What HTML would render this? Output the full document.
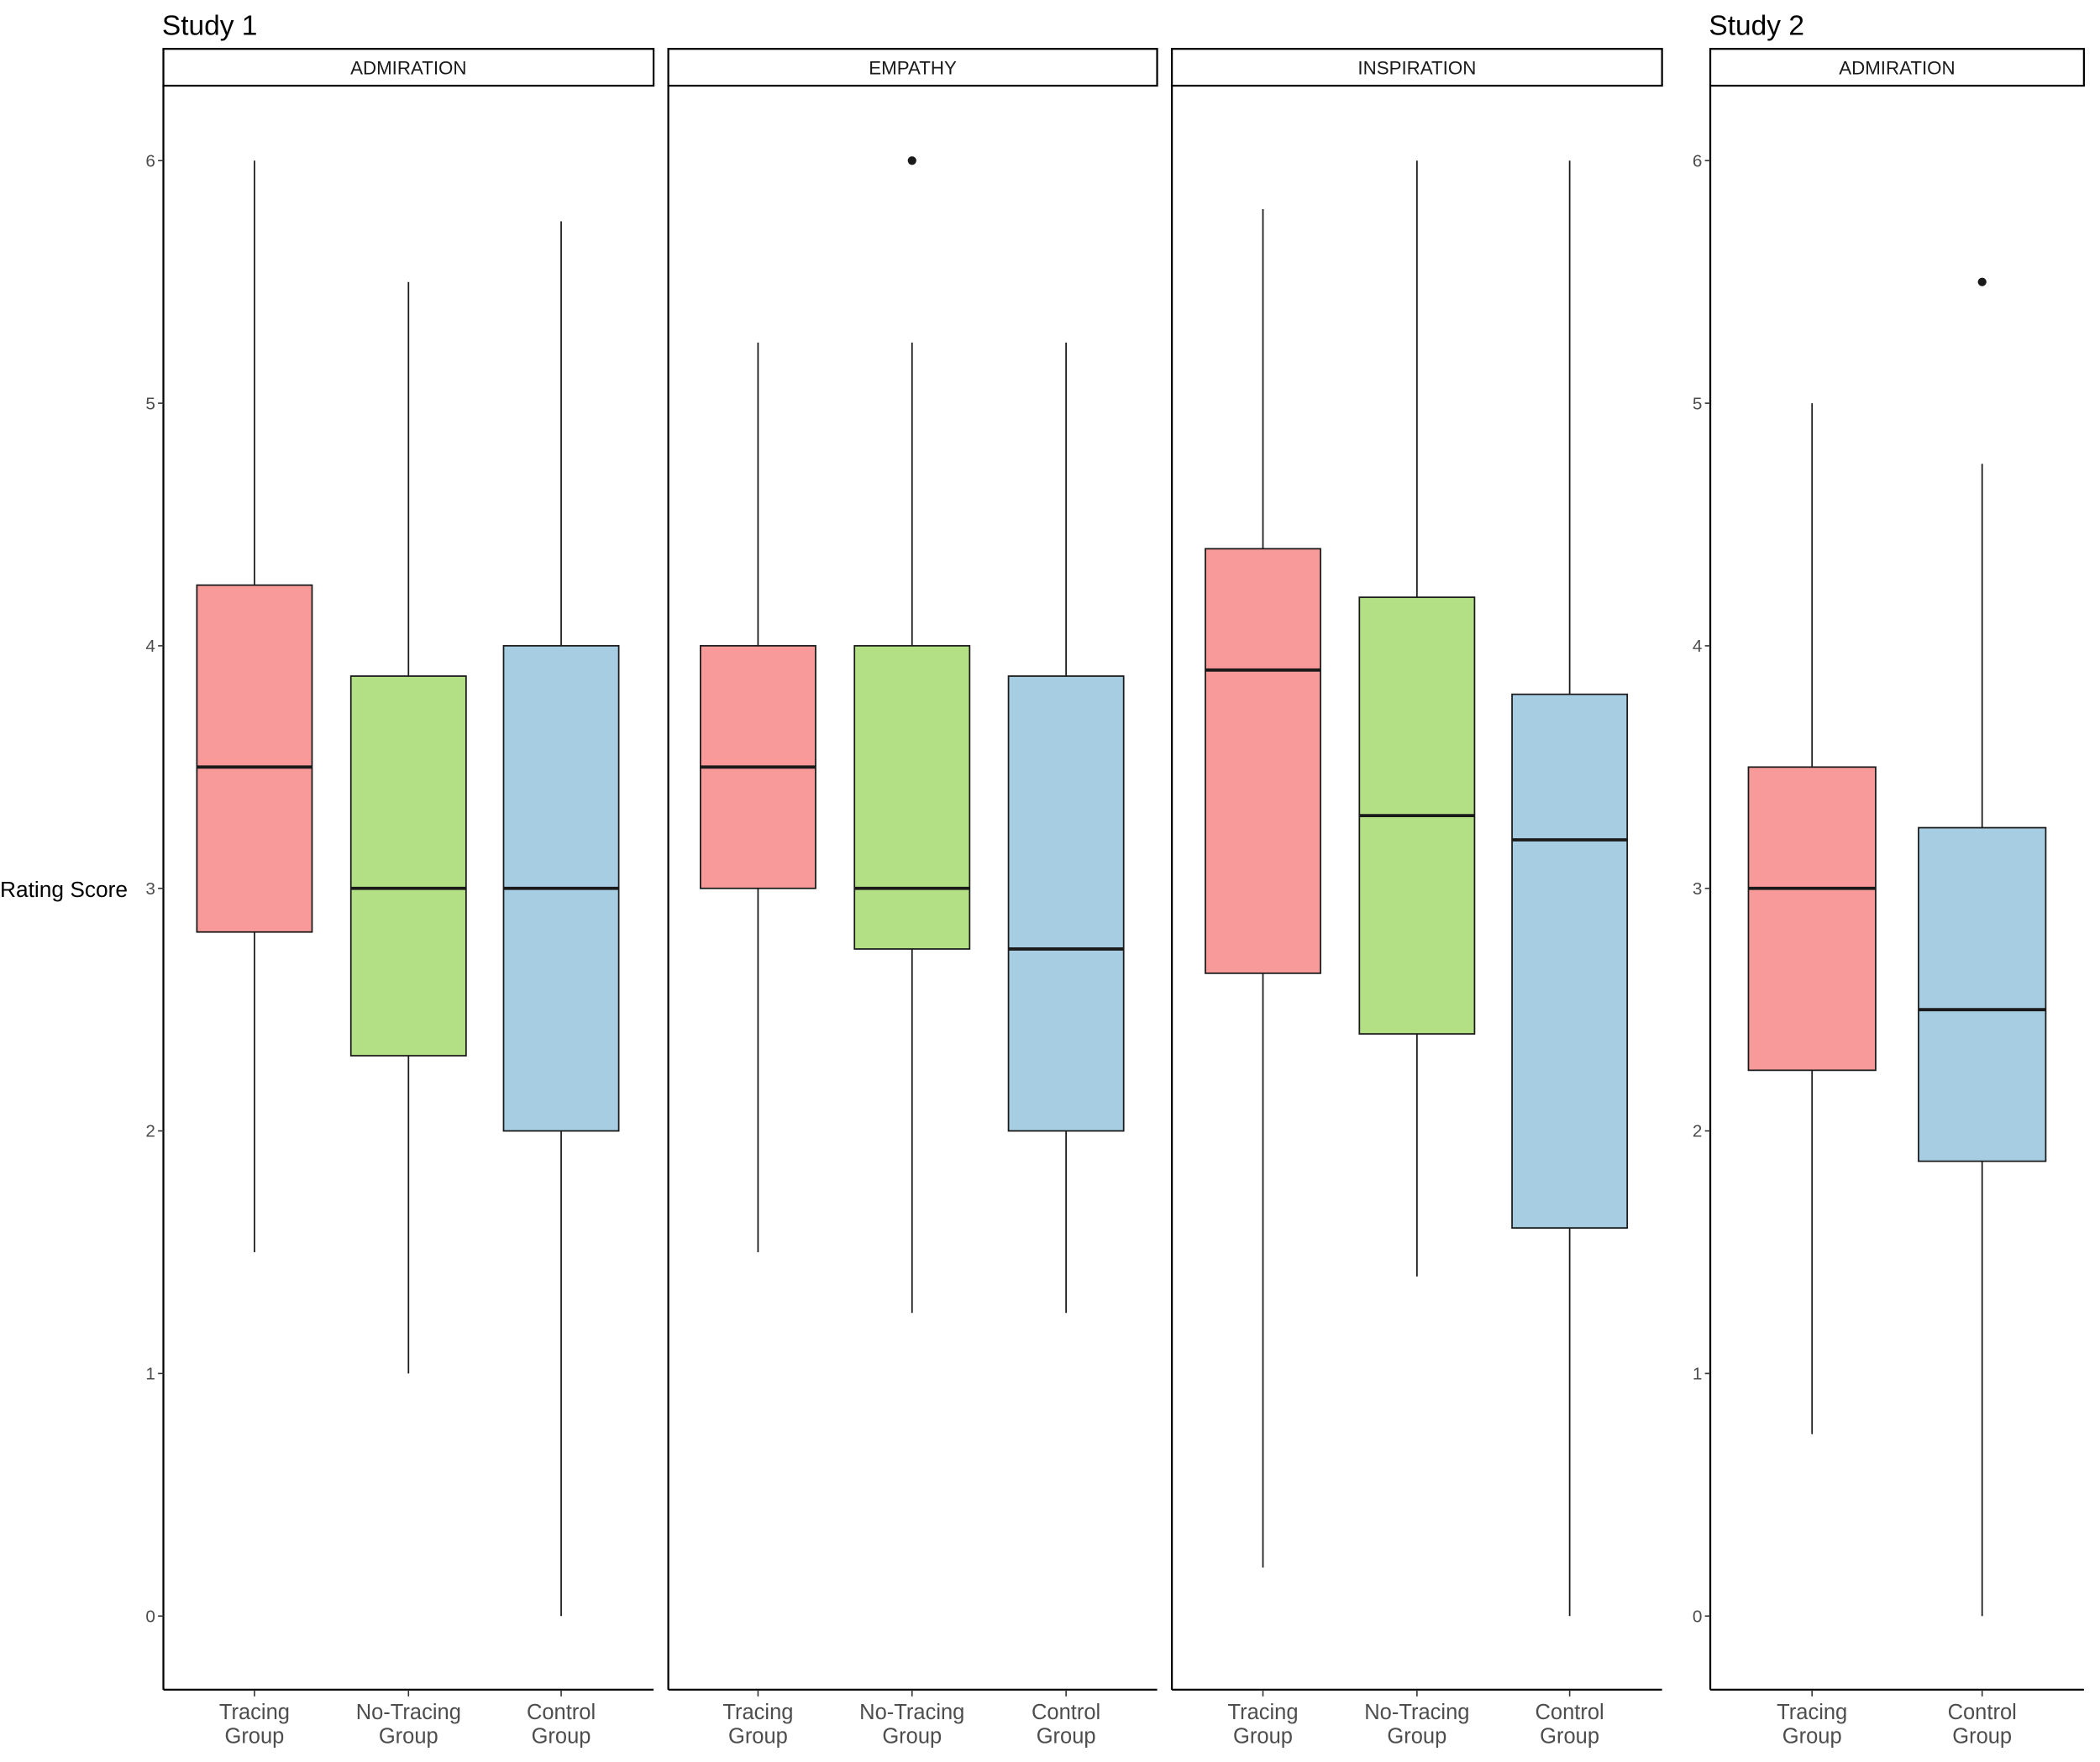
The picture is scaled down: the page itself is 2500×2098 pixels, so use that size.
<!DOCTYPE html>
<html><head><meta charset="utf-8"><style>html,body{margin:0;padding:0;background:#fff}svg{display:block}</style></head>
<body>
<svg id="s" width="2500" height="2098" viewBox="0 0 1568 1316" preserveAspectRatio="none" xmlns="http://www.w3.org/2000/svg" font-family="Liberation Sans, Arial, sans-serif">
<rect width="1568" height="1316" fill="#fff"/>
<text x="121" y="26" font-size="21" fill="#000">Study 1</text>
<text x="1276" y="26" font-size="21" fill="#000">Study 2</text>
<text x="0" y="670" font-size="16.5" fill="#000">Rating Score</text>
<g id="g"></g>
</svg>
<script>
const g=document.getElementById('g');
const Y=v=>1207-181.17*v;
let h='';
const pink='#F8999A',green='#B3DF85',blue='#A6CDE2';
const panels=[
 {x0:122,x1:488,name:'ADMIRATION',ticks:true,b:[
  [190,pink,1.5,2.82,3.5,4.25,6,null,'Tracing','Group'],
  [305,green,1,2.31,3,3.875,5.5,null,'No-Tracing','Group'],
  [419,blue,0,2,3,4,5.75,null,'Control','Group']]},
 {x0:499,x1:864,name:'EMPATHY',ticks:false,b:[
  [566,pink,1.5,3,3.5,4,5.25,null,'Tracing','Group'],
  [681,green,1.25,2.75,3,4,5.25,6,'No-Tracing','Group'],
  [796,blue,1.25,2,2.75,3.875,5.25,null,'Control','Group']]},
 {x0:875,x1:1241,name:'INSPIRATION',ticks:false,b:[
  [943,pink,0.2,2.65,3.9,4.4,5.8,null,'Tracing','Group'],
  [1058,green,1.4,2.4,3.3,4.2,6,null,'No-Tracing','Group'],
  [1172,blue,0,1.6,3.2,3.8,6,null,'Control','Group']]},
 {x0:1277,x1:1556,name:'ADMIRATION',ticks:true,b:[
  [1353,pink,0.75,2.25,3,3.5,5,null,'Tracing','Group'],
  [1480,blue,0,1.875,2.5,3.25,4.75,5.5,'Control','Group']]}
];
for(const p of panels){
 h+=`<rect x="${p.x0}" y="36.5" width="${p.x1-p.x0}" height="27.5" fill="#fff" stroke="#000" stroke-width="1.4"/>`;
 h+=`<text x="${(p.x0+p.x1)/2}" y="55.5" font-size="14" text-anchor="middle" fill="#1a1a1a">${p.name}</text>`;
 h+=`<line x1="${p.x0}" y1="64" x2="${p.x0}" y2="1262" stroke="#000" stroke-width="1.4"/>`;
 h+=`<line x1="${p.x0}" y1="1262" x2="${p.x1}" y2="1262" stroke="#000" stroke-width="1.4"/>`;
 if(p.ticks){for(let v=0;v<=6;v++){const y=Y(v);
  h+=`<line x1="${p.x0-4}" y1="${y}" x2="${p.x0}" y2="${y}" stroke="#333" stroke-width="1"/>`;
  h+=`<text x="${p.x0-6}" y="${y+4.5}" font-size="13" text-anchor="end" fill="#4d4d4d">${v}</text>`;}}
 const w=p.b.length==2?95:86;
 for(const b of p.b){const [c,col,lo,q1,md,q3,hi,out,l1,l2]=b;
  h+=`<line x1="${c}" y1="${Y(hi)}" x2="${c}" y2="${Y(lo)}" stroke="#1a1a1a" stroke-width="1.1"/>`;
  h+=`<rect x="${c-w/2}" y="${Y(q3)}" width="${w}" height="${Y(q1)-Y(q3)}" fill="${col}" stroke="#1a1a1a" stroke-width="1.1"/>`;
  h+=`<line x1="${c-w/2}" y1="${Y(md)}" x2="${c+w/2}" y2="${Y(md)}" stroke="#1a1a1a" stroke-width="2.4"/>`;
  if(out!==null)h+=`<circle cx="${c}" cy="${Y(out)}" r="3.2" fill="#1a1a1a"/>`;
  h+=`<line x1="${c}" y1="1262" x2="${c}" y2="1267" stroke="#333" stroke-width="1"/>`;
  h+=`<text x="${c}" y="1284" font-size="16" text-anchor="middle" fill="#4d4d4d">${l1}</text>`;
  h+=`<text x="${c}" y="1302" font-size="16" text-anchor="middle" fill="#4d4d4d">${l2}</text>`;
 }
}
g.innerHTML=h;
</script>
</body></html>
